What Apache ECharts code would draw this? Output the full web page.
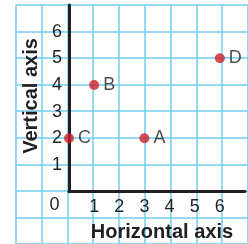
<!DOCTYPE html>
<html>
<head>
<meta charset="utf-8">
<style>
html,body{margin:0;padding:0;background:#fff;}
#c{width:248px;height:244px;}
</style>
<script src="https://cdn.jsdelivr.net/npm/echarts@6/dist/echarts.min.js"></script>
</head>
<body>
<div id="c"></div>
<script>
const pointNames = ['A', 'B', 'C', 'D'];
const xValues = [3, 1, 0, 6];
const yValues = [2, 4, 2, 5];
const xTickLabels = ['1', '2', '3', '4', '5', '6'];
const yTickLabels = ['1', '2', '3', '4', '5', '6'];
const originLabel = '0';
const xTitle = 'Horizontal axis';
const yTitle = 'Vertical axis';

const gridColor = '#72cdf1';
const textColor = '#231f20';
const font = 'Liberation Sans, Arial, Helvetica, sans-serif';
const cell = 240 / 9;

const chart = echarts.init(document.getElementById('c'), null, {renderer: 'canvas'});

const option = {
  animation: false,
  grid: [
    {left: 15.67, top: 5, width: 9 * cell, height: 9 * cell, containLabel: false},
    {left: 15.67 + 2 * cell, top: 5, width: 7 * cell, height: 7 * cell, containLabel: false}
  ],
  xAxis: [
    {
      gridIndex: 0, type: 'value', min: -2, max: 7, interval: 1,
      axisLine: {show: false}, axisTick: {show: false}, axisLabel: {show: false},
      splitLine: {show: true, lineStyle: {color: gridColor, width: 1.5}}
    },
    {
      gridIndex: 1, type: 'value', min: 0, max: 7, interval: 1, position: 'bottom',
      axisLine: {show: true, onZero: false, lineStyle: {color: '#231f20', width: 3}},
      axisTick: {show: false}, splitLine: {show: false},
      axisLabel: {
        margin: 6, fontSize: 18, color: textColor, fontFamily: font,
        formatter: v => xTickLabels.includes(String(v)) ? String(v) : ''
      }
    }
  ],
  yAxis: [
    {
      gridIndex: 0, type: 'value', min: -2, max: 7, interval: 1,
      axisLine: {show: false}, axisTick: {show: false}, axisLabel: {show: false},
      splitLine: {show: true, lineStyle: {color: gridColor, width: 1.5}}
    },
    {
      gridIndex: 1, type: 'value', min: 0, max: 7, interval: 1, position: 'left',
      axisLine: {show: true, onZero: false, lineStyle: {color: '#231f20', width: 3}},
      axisTick: {show: false}, splitLine: {show: false},
      axisLabel: {
        margin: 7, fontSize: 18, color: textColor, fontFamily: font,
        formatter: v => yTickLabels.includes(String(v)) ? String(v) : ''
      }
    }
  ],
  series: [{
    type: 'scatter',
    xAxisIndex: 1, yAxisIndex: 1,
    clip: false,
    symbolSize: 10,
    itemStyle: {color: '#cc2229'},
    label: {
      show: true, position: 'right', distance: 4,
      fontSize: 18, color: textColor, fontFamily: font,
      formatter: p => p.data[2]
    },
    data: pointNames.map((n, i) => [xValues[i], yValues[i], n]),
    z: 10
  }]
};
chart.setOption(option);

const pOrig = chart.convertToPixel({gridIndex: 0}, [-0.5, -0.55]);

chart.setOption({
  graphic: [
    {type: 'text', z: 6, x: pOrig[0], y: pOrig[1],
     style: {text: originLabel, fontSize: 18, fill: textColor, fontFamily: font, align: 'center', verticalAlign: 'middle'}},
    {type: 'text', z: 6, x: 162, y: 232,
     style: {text: xTitle, fontSize: 20, fontWeight: 'bold', fill: textColor, fontFamily: font, align: 'center', verticalAlign: 'middle'}},
    {type: 'text', z: 6, x: 31, y: 96, rotation: Math.PI / 2,
     style: {text: yTitle, fontSize: 20, fontWeight: 'bold', fill: textColor, fontFamily: font, align: 'center', verticalAlign: 'middle'}}
  ]
});
</script>
</body>
</html>
